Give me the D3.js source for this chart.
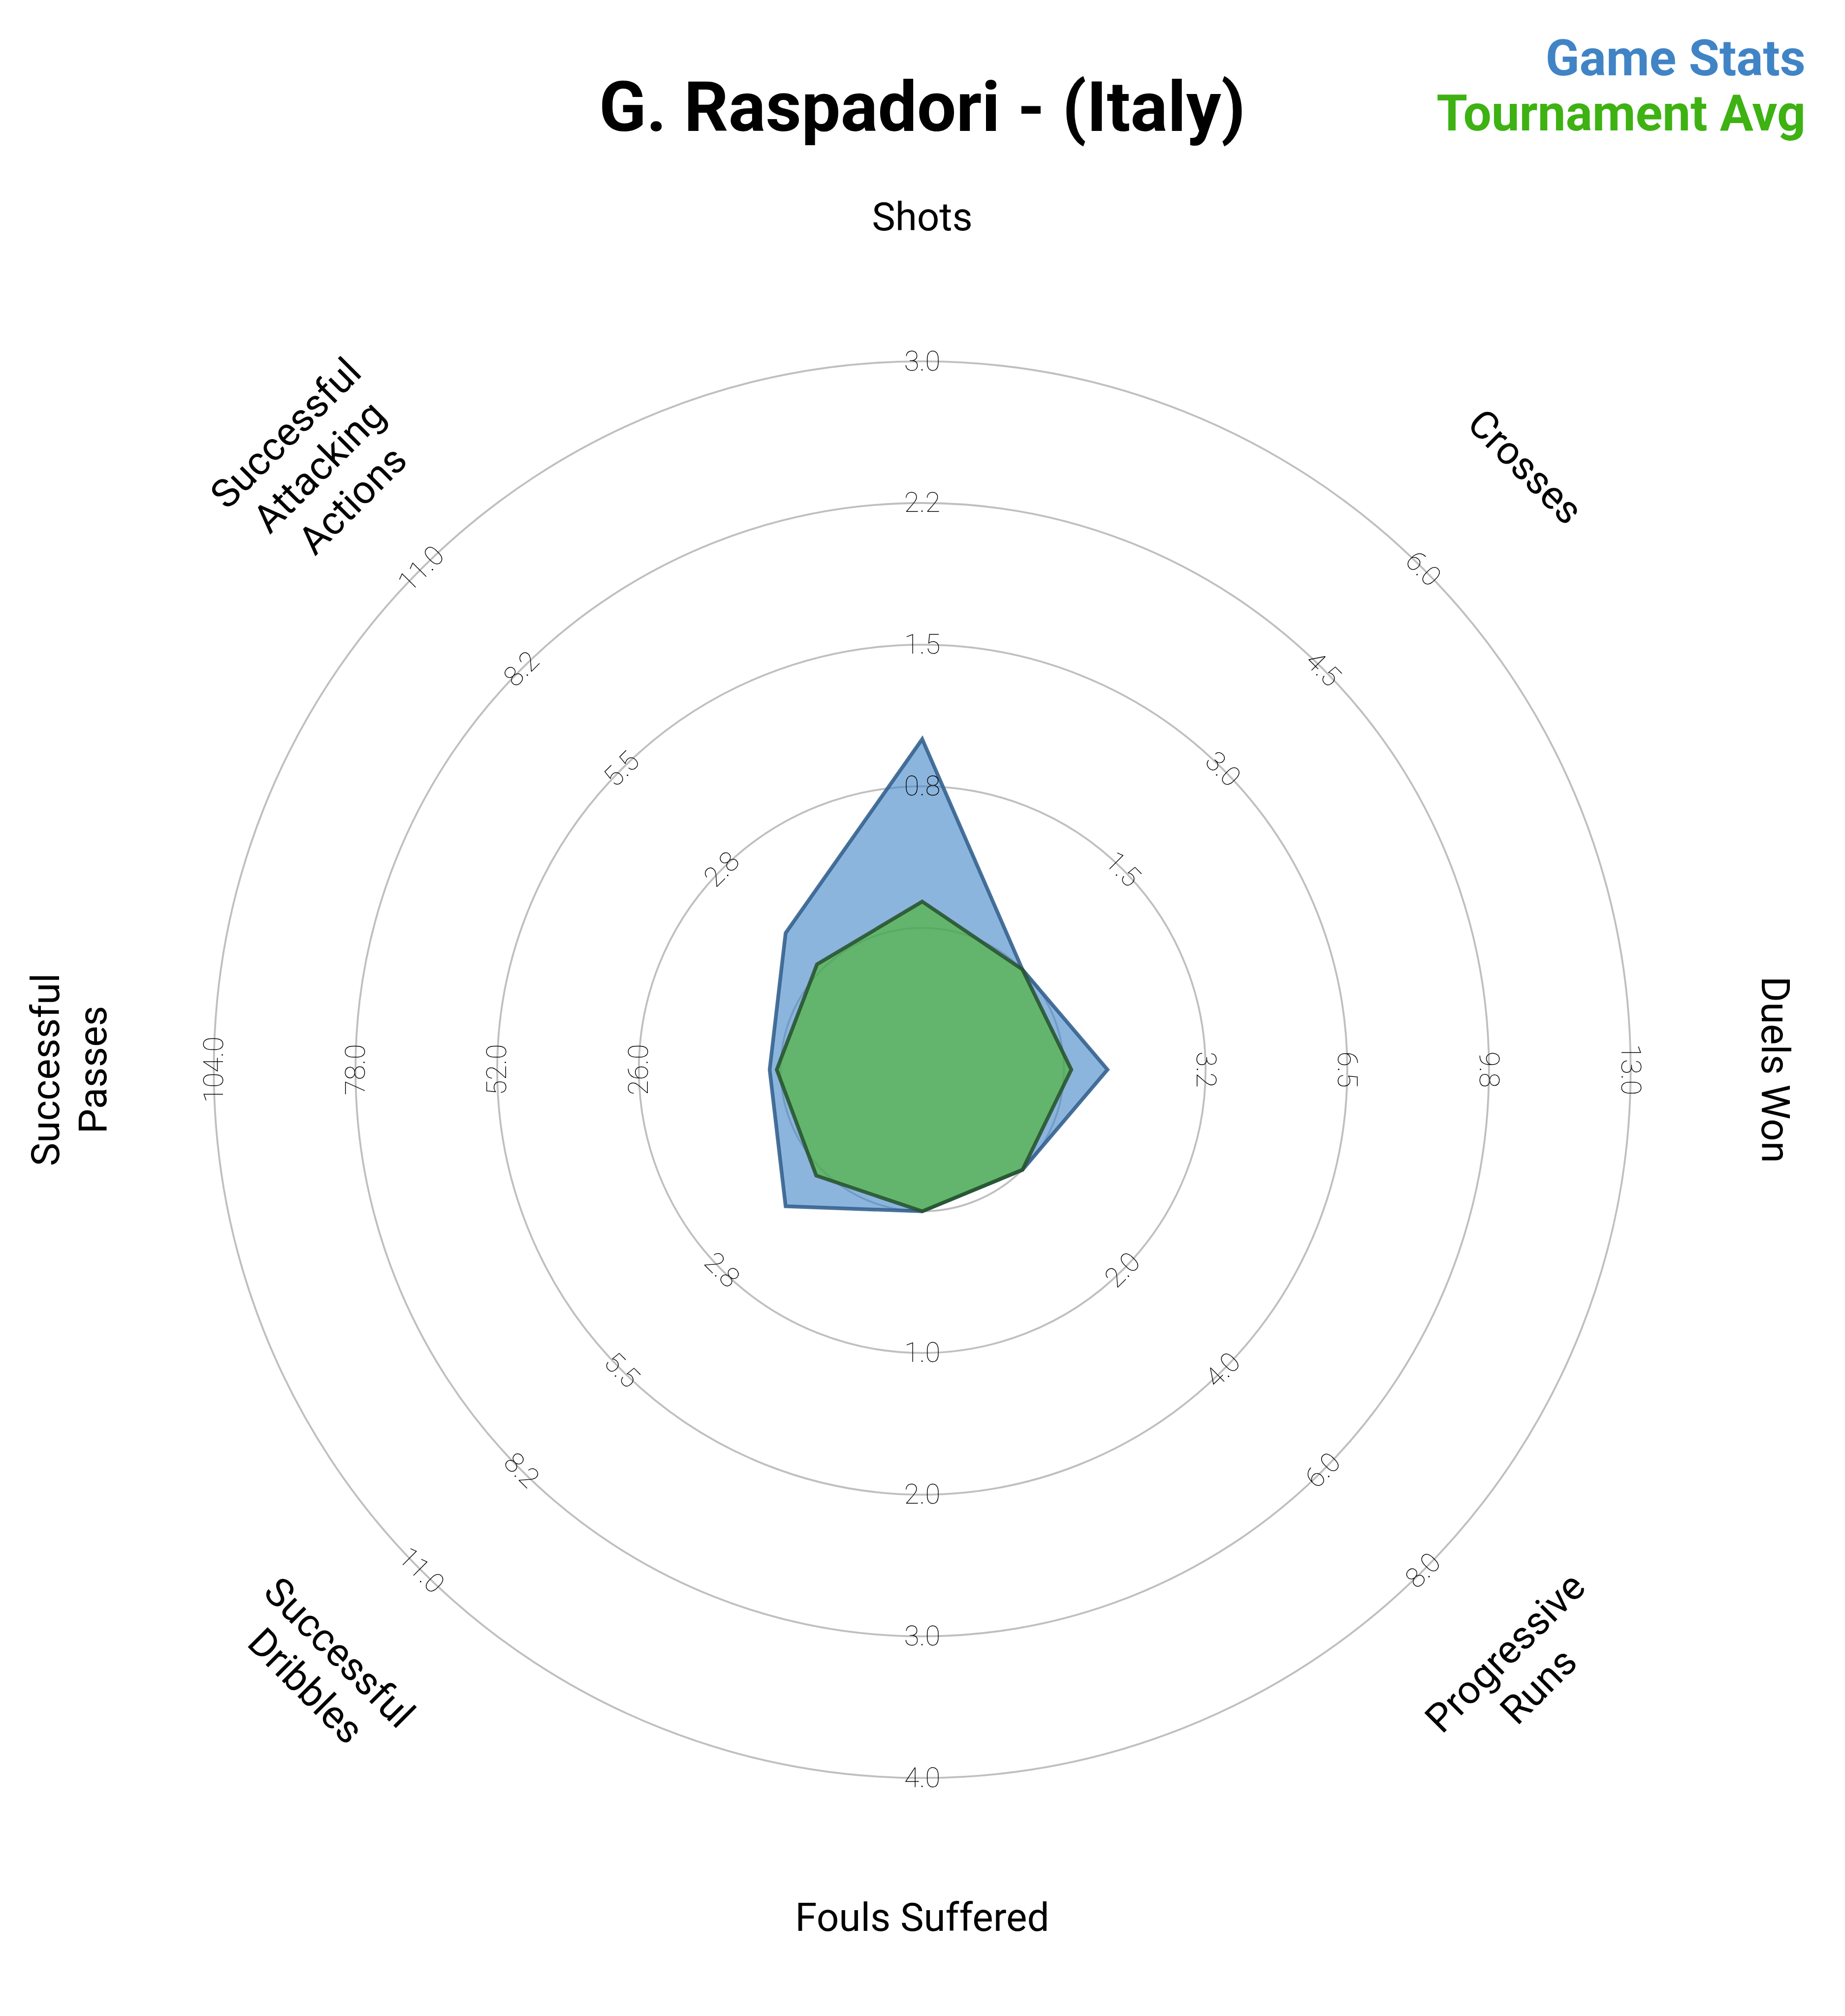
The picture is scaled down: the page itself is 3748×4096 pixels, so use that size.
<!DOCTYPE html>
<html>
<head>
<meta charset="utf-8">
<script src="https://cdn.jsdelivr.net/npm/d3@7"></script>
<style>
  html, body { margin: 0; padding: 0; background: #ffffff; }
  svg { display: block; }
</style>
</head>
<body>
<div id="chart"></div>
<script>
// ---------------- data ----------------
const params = ["Shots", "Crosses", "Duels Won", "Progressive Runs", "Fouls Suffered",
                "Successful Dribbles", "Successful Passes", "Successful Attacking Actions"];
const labelLines = [["Shots"], ["Crosses"], ["Duels Won"], ["Progressive", "Runs"], ["Fouls Suffered"],
                    ["Successful", "Dribbles"], ["Successful", "Passes"], ["Successful", "Attacking", "Actions"]];
const lows  = [0, 0, 0, 0, 0, 0, 0, 0];
const highs = [3, 6, 13, 8, 4, 11, 104, 11];
const gameStats     = [1, 0, 1, 0, 0, 1, 2, 1];
const tournamentAvg = [0.14, 0, 0.17, 0, 0, 0.16, 0.7, 0.14];
const tickLabels = [
  ["0.8", "1.5", "2.2", "3.0"],
  ["1.5", "3.0", "4.5", "6.0"],
  ["3.2", "6.5", "9.8", "13.0"],
  ["2.0", "4.0", "6.0", "8.0"],
  ["1.0", "2.0", "3.0", "4.0"],
  ["2.8", "5.5", "8.2", "11.0"],
  ["26.0", "52.0", "78.0", "104.0"],
  ["2.8", "5.5", "8.2", "11.0"]
];
const titleText = "G. Raspadori - (Italy)";
const legendItems = ["Game Stats", "Tournament Avg"];

// ---------------- layout ----------------
const W = 3748, H = 4096, S = 0.975;
const cx = 1921.5 * S, cy = 2229 * S;
const r0 = 295.2 * S, r1 = 1476 * S;
const labelR = 1772 * S;
const FONT = "Roboto, 'Noto Sans', sans-serif";
const blue = "#3F84C6", green = "#48B524";
const legendBlue = "#4084C6", legendGreen = "#3DB212";

const svg = d3.select("#chart").append("svg")
  .attr("width", W).attr("height", H)
  .attr("viewBox", `0 0 ${W} ${H}`);
svg.append("rect").attr("width", W).attr("height", H).attr("fill", "#ffffff");

const n = params.length;
const angle = d3.scaleLinear().domain([0, n]).range([0, 2 * Math.PI]);
const rScales = params.map((p, i) => d3.scaleLinear().domain([lows[i], highs[i]]).range([r0, r1]));
const ringScale = d3.scaleLinear().domain([0, 4]).range([r0, r1]);

const g = svg.append("g").attr("transform", `translate(${cx},${cy})`);

// rings (inner circle + 4 rings)
g.selectAll("circle.ring").data(d3.range(5)).join("circle")
  .attr("class", "ring")
  .attr("r", d => ringScale(d))
  .attr("fill", "none")
  .attr("stroke", "#bfbfbf")
  .attr("stroke-width", 3.8);

function rotFor(i) {
  const deg = angle(i) * 180 / Math.PI;
  if (deg <= 90) return deg;
  if (deg < 270) return deg - 180;
  return deg - 360;
}

// polygons
const line = d3.line().curve(d3.curveLinearClosed);
function pts(values) {
  return values.map((v, i) => d3.pointRadial(angle(i), rScales[i](v)));
}
g.append("path")
  .attr("d", line(pts(gameStats)))
  .attr("fill", blue).attr("fill-opacity", 0.6)
  .attr("stroke", "#34628F").attr("stroke-opacity", 0.9)
  .attr("stroke-width", 7.5).attr("stroke-linejoin", "miter");
g.append("path")
  .attr("d", line(pts(tournamentAvg)))
  .attr("fill", green).attr("fill-opacity", 0.6)
  .attr("stroke", "#24502A").attr("stroke-opacity", 0.85)
  .attr("stroke-width", 7.5).attr("stroke-linejoin", "miter");

// tick labels on rings
params.forEach((p, i) => {
  tickLabels[i].forEach((t, k) => {
    const [x, y] = d3.pointRadial(angle(i), ringScale(k + 1));
    g.append("text")
      .attr("transform", `translate(${x},${y}) rotate(${rotFor(i)})`)
      .attr("text-anchor", "middle")
      .attr("dy", "0.33em")
      .attr("font-family", FONT)
      .attr("font-weight", 100)
      .attr("font-size", 56)
      .attr("fill", "#000000")
      .text(t);
  });
});

// axis labels
const LFS = 80, LH = 96;
params.forEach((p, i) => {
  const [x, y] = d3.pointRadial(angle(i), labelR);
  const lines = labelLines[i];
  const lg = g.append("g").attr("transform", `translate(${x},${y}) rotate(${rotFor(i)})`);
  lines.forEach((ln, k) => {
    lg.append("text")
      .attr("x", 0)
      .attr("y", (k - (lines.length - 1) / 2) * LH)
      .attr("dy", "0.28em")
      .attr("text-anchor", "middle")
      .attr("font-family", FONT)
      .attr("font-size", LFS)
      .attr("fill", "#000000")
      .text(ln);
  });
});

// title
svg.append("text")
  .attr("x", 1921.5 * S).attr("y", 273 * S)
  .attr("text-anchor", "middle")
  .attr("font-family", FONT).attr("font-weight", 700)
  .attr("font-size", 145 * S)
  .attr("fill", "#000000")
  .text(titleText);

// legend
const legendColors = [legendBlue, legendGreen];
const legendY = [157 * S, 272 * S];
legendItems.forEach((t, k) => {
  svg.append("text")
    .attr("x", 3762 * S).attr("y", legendY[k])
    .attr("text-anchor", "end")
    .attr("font-family", FONT).attr("font-weight", 700)
    .attr("font-size", 104 * S)
    .attr("fill", legendColors[k])
    .text(t);
});
</script>
</body>
</html>
